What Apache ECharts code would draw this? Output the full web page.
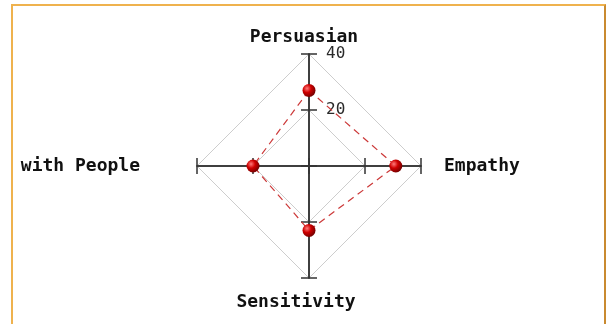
<!DOCTYPE html>
<html>
<head>
<meta charset="utf-8">
<script src="https://cdn.jsdelivr.net/npm/echarts@6/dist/echarts.min.js"></script>
<style>
html,body{margin:0;padding:0;background:#fff;}
#chart{position:absolute;left:0;top:0;width:609px;height:324px;}
#frame{position:absolute;left:11px;top:4px;width:591px;height:340px;border:2px solid #efb24e;border-right-color:#c98a30;pointer-events:none;}
</style>
</head>
<body>
<div id="chart"></div>
<div id="frame"></div>
<script>
var indicatorNames = ['Persuasian', 'with People', 'Sensitivity', 'Empathy'];
var indicatorMax = 40;
var seriesValues = [27, 20, 23, 31];
var tickInterval = 20;

var namePad = {
  'Persuasian': [0, 10, 0, 0],
  'with People': [0, 51, 0, 0],
  'Sensitivity': [9, 26, 0, 0],
  'Empathy': [0, 0, 0, 17]
};
var nameKeys = {'Persuasian':'t','with People':'l','Sensitivity':'b','Empathy':'r'};
var rich = {};
indicatorNames.forEach(function(n){
  rich[nameKeys[n]] = {
    fontFamily: 'DejaVu Sans Mono', fontWeight: 'bold', fontSize: 18, color: '#111',
    padding: namePad[n]
  };
});

var indicators0 = indicatorNames.map(function(n, i){
  var o = {name: n, max: indicatorMax, min: 0};
  if (i === 0) o.axisLabel = {show: true};
  return o;
});
var indicators1 = indicatorNames.map(function(n){ return {name: n, max: indicatorMax, min: 0}; });

var chart = echarts.init(document.getElementById('chart'));
var axisLineStyle = {color: '#333', width: 1.5};
chart.setOption({
  backgroundColor: '#fff',
  animation: false,
  radar: [{
    center: [309, 166],
    radius: 112,
    startAngle: 90,
    shape: 'polygon',
    splitNumber: indicatorMax / tickInterval,
    indicator: indicators0,
    nameGap: 6,
    axisName: {
      formatter: function(name){ return '{' + nameKeys[name] + '|' + name + '}'; },
      rich: rich
    },
    axisLine: {lineStyle: axisLineStyle},
    axisTick: {show: true, length: 8, lineStyle: axisLineStyle},
    axisLabel: {
      show: false, fontFamily: 'DejaVu Sans Mono', fontSize: 16, color: '#2a2a2a',
      margin: -17, align: 'left',
      formatter: function(v){ return v === 0 ? '' : String(v); }
    },
    splitLine: {lineStyle: {color: '#cdcdcd', width: 1}},
    splitArea: {show: false}
  }, {
    center: [309, 166],
    radius: 112,
    startAngle: 90,
    shape: 'polygon',
    splitNumber: indicatorMax / tickInterval,
    indicator: indicators1,
    axisName: {show: false},
    axisLine: {lineStyle: axisLineStyle},
    axisTick: {show: true, length: -8, lineStyle: axisLineStyle},
    axisLabel: {show: false},
    splitLine: {show: false},
    splitArea: {show: false}
  }],
  series: [{
    type: 'radar',
    radarIndex: 0,
    symbol: 'circle',
    symbolSize: 13,
    z: 5,
    lineStyle: {type: [7, 5], width: 1.2, color: '#cc3838'},
    itemStyle: {
      color: new echarts.graphic.RadialGradient(0.35, 0.35, 0.7, [
        {offset: 0, color: '#ff7a7a'},
        {offset: 0.45, color: '#d00000'},
        {offset: 1, color: '#700000'}
      ]),
      borderWidth: 0
    },
    data: [{value: seriesValues}]
  }]
});
</script>
</body>
</html>
